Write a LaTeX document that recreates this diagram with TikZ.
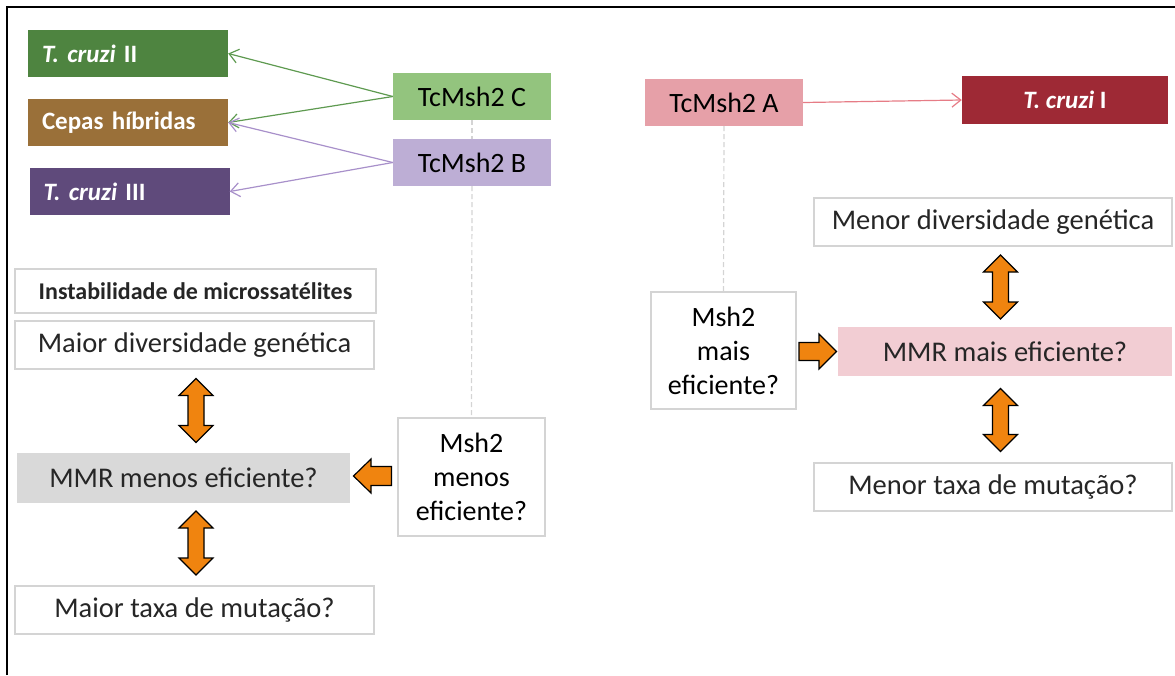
\documentclass[tikz,border=0pt]{standalone}
\usepackage{fontspec}
\setmainfont{Carlito}
\usetikzlibrary{arrows.meta}

% palette
\definecolor{txt}{HTML}{262626}
\definecolor{boxline}{HTML}{D4D4D4}
\definecolor{cII}{HTML}{4E8440}
\definecolor{chib}{HTML}{9A7039}
\definecolor{cIII}{HTML}{5F4A7B}
\definecolor{cI}{HTML}{9E2935}
\definecolor{mshC}{HTML}{93C47E}
\definecolor{mshB}{HTML}{BDAED5}
\definecolor{mshA}{HTML}{E6A0A8}
\definecolor{mmrlow}{HTML}{D9D9D9}
\definecolor{mmrhigh}{HTML}{F2CDD3}
\definecolor{lineC}{HTML}{5E9A50}
\definecolor{lineB}{HTML}{A890CA}
\definecolor{lineA}{HTML}{E67C86}
\definecolor{blockorange}{HTML}{F0840F}

% vertical two-headed block arrow: centre x, top y, bottom y
\newcommand\vdblarrow[3]{%
  \draw[blockarrow] ({#1},{#2}) -- ({#1+17},{#2+17}) -- ({#1+8},{#2+17})
    -- ({#1+8},{#3-17}) -- ({#1+17},{#3-17}) -- ({#1},{#3})
    -- ({#1-17},{#3-17}) -- ({#1-8},{#3-17}) -- ({#1-8},{#2+17})
    -- ({#1-17},{#2+17}) -- cycle;}

\begin{document}
\begin{tikzpicture}[x=1pt,y=-1pt,
  every node/.style={inner sep=0pt},
  whitebox/.style={draw=boxline, line width=1.3pt, fill=white, text=txt,
    align=center, font=\fontsize{28.5}{34}\selectfont},
  strain/.style={draw=none, text=white, inner xsep=14pt, text width=172pt,
    align=left, minimum height=47pt, font=\bfseries\fontsize{25}{28}\selectfont},
  mshbox/.style={draw=none, text=black, minimum width=158pt, minimum height=47pt,
    font=\fontsize{28}{32}\selectfont},
  thinarrow/.style={line width=1.2pt, -{Straight Barb[length=9pt,width=14pt,line width=1.2pt]}},
  guide/.style={draw=boxline, line width=1.2pt, dash pattern=on 5pt off 3pt},
  blockarrow/.style={fill=blockorange, draw=black, line width=1.2pt, line join=miter}]

\useasboundingbox (0,0) rectangle (1175,675);

% frame
\draw[line width=2pt] (7,675) -- (7,7) -- (1175,7);

% strains
\node[strain, fill=cII]  (tcII)  at (128,53.5)   {\textit{T. cruzi} II};
\node[strain, fill=chib] (hib)   at (128,122.5)  {Cepas híbridas};
\node[strain, fill=cIII] (tcIII) at (129.5,191.5){\textit{T. cruzi} III};
\node[draw=none, fill=cI, text=white, minimum width=206pt, minimum height=48pt,
      font=\bfseries\fontsize{25}{28}\selectfont] (tcI) at (1065,100) {\textit{T. cruzi} I};

% TcMsh2 variants
\node[mshbox, fill=mshC] (mC) at (472,96.5)  {TcMsh2 C};
\node[mshbox, fill=mshB] (mB) at (472,162.5) {TcMsh2 B};
\node[mshbox, fill=mshA] (mA) at (724,102.5) {TcMsh2 A};

% left branch
\node[whitebox, minimum width=361pt, minimum height=44pt,
      font=\bfseries\fontsize{24}{28}\selectfont] (inst) at (195.5,291) {Instabilidade de microssatélites};
\node[whitebox, minimum width=359pt, minimum height=48pt] (maiordiv) at (194.5,345) {Maior diversidade genética};
\node[whitebox, draw=none, fill=mmrlow, minimum width=333pt, minimum height=50pt] (mmrlo) at (183.5,478) {MMR menos eficiente?};
\node[whitebox, minimum width=359pt, minimum height=48pt] (maiortaxa) at (194.5,610) {Maior taxa de mutação?};
\node[whitebox, text=black, minimum width=147pt, minimum height=118pt,
      font=\fontsize{28}{34}\selectfont] (mshlo) at (471.5,477) {Msh2\\menos\\eficiente?};

% right branch
\node[whitebox, minimum width=358pt, minimum height=48pt] (menordiv) at (993,222) {Menor diversidade genética};
\node[whitebox, text=black, minimum width=145pt, minimum height=117pt,
      font=\fontsize{28}{34}\selectfont] (mshhi) at (723.5,350.5) {Msh2\\mais\\eficiente?};
\node[whitebox, draw=none, fill=mmrhigh, minimum width=334pt, minimum height=49pt] (mmrhi) at (1005,351.5) {MMR mais eficiente?};
\node[whitebox, minimum width=358pt, minimum height=48pt] (menortaxa) at (993,487) {Menor taxa de mutação?};

% dashed guides
\draw[guide] (mC.south) -- (mB.north);
\draw[guide] (mB.south) -- (mshlo.north);
\draw[guide] (mA.south) -- (mshhi.north);

% variant-to-strain arrows
\draw[thinarrow, draw=lineC] (mC.west) -- (tcII.east);
\draw[thinarrow, draw=lineC] (mC.west) -- (hib.east);
\draw[thinarrow, draw=lineB] (mB.west) -- (hib.east);
\draw[thinarrow, draw=lineB] (mB.west) -- (tcIII.east);
\draw[thinarrow, draw=lineA] (mA.east) -- (tcI.west);

% block arrows, left branch
\vdblarrow{196}{378.5}{442.5}
\vdblarrow{196}{511}{575}
\draw[blockarrow] (353.5,476) -- (371,459) -- (371,466.5) -- (391.5,466.5)
  -- (391.5,485.5) -- (371,485.5) -- (371,493) -- cycle;

% block arrows, right branch
\vdblarrow{1000.5}{255}{319}
\vdblarrow{1000.5}{388.5}{451.5}
\draw[blockarrow] (836.5,351.5) -- (819,334) -- (819,342.5) -- (799,342.5)
  -- (799,360.5) -- (819,360.5) -- (819,369) -- cycle;
\end{tikzpicture}
\end{document}
